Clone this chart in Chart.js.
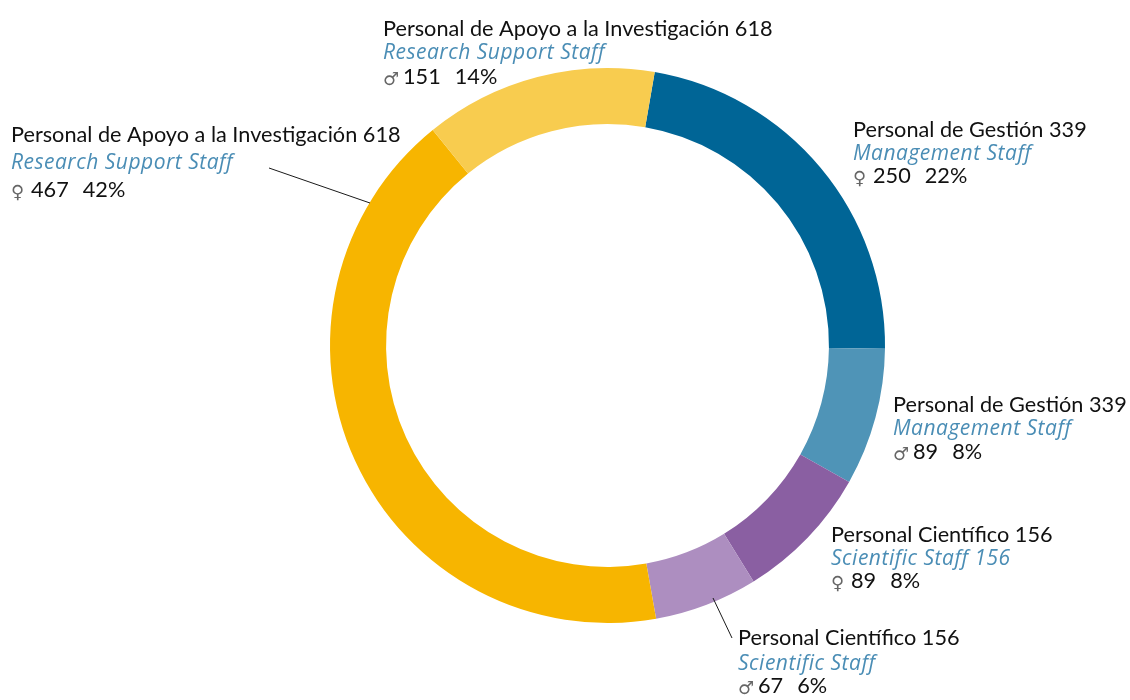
<!DOCTYPE html>
<html>
<head>
<meta charset="utf-8">
<script src="https://cdn.jsdelivr.net/npm/chart.js@4.4.1/dist/chart.umd.min.js"></script>
<style>
  html,body{margin:0;padding:0;background:#fff;}
  #wrap{width:1130px;height:700px;position:relative;}
</style>
</head>
<body>
<div id="wrap"><canvas id="chart-donut"></canvas></div>
<script>
'use strict';

// data, clockwise from the top
const namesEs  = ['Personal de Gestión 339','Personal de Gestión 339','Personal Científico 156','Personal Científico 156','Personal de Apoyo a la Investigación 618','Personal de Apoyo a la Investigación 618'];
const namesEn  = ['Management Staff','Management Staff','Scientific Staff 156','Scientific Staff','Research Support Staff','Research Support Staff'];
const genders  = ['♀','♂','♀','♂','♀','♂'];
const counts   = [250, 89, 89, 67, 467, 151];
const percents = ['22%','8%','8%','6%','42%','14%'];
const palette  = ['#006596','#4f94b7','#8a5fa2','#ad8ec0','#f7b500','#f8cc4f'];

// label layout: x, baseline of 1st/2nd/3rd line, optional leader line
const labelPos = [
  {x:853, y:[137,160,183]},
  {x:893, y:[412,435,459]},
  {x:831, y:[542,565,588]},
  {x:738, y:[645,670,693], line:[713,598,732,638]},
  {x:11,  y:[142,169,197], line:[269,168,370,203]},
  {x:383, y:[36,59,84]},
];

const labelPlugin = {
  id:'donutLabels',
  afterDraw(chart){
    const ctx = chart.ctx;
    ctx.save();
    labelPos.forEach((p,i)=>{
      if (p.line) {
        ctx.beginPath();
        ctx.strokeStyle = '#1a1a1a';
        ctx.lineWidth = 1;
        ctx.moveTo(p.line[0],p.line[1]);
        ctx.lineTo(p.line[2],p.line[3]);
        ctx.stroke();
      }
      ctx.textBaseline = 'alphabetic';
      ctx.textAlign = 'left';
      ctx.letterSpacing = '0px';
      ctx.fillStyle = '#111';
      ctx.font = '21.7px Lato';
      ctx.fillText(namesEs[i], p.x, p.y[0]);
      ctx.fillStyle = '#4a8db5';
      ctx.font = 'italic 21px "Open Sans"';
      ctx.letterSpacing = '0.5px';
      ctx.fillText(namesEn[i], p.x, p.y[1]);
      ctx.letterSpacing = '0px';
      ctx.fillStyle = '#666';
      ctx.font = '18px "DejaVu Sans"';
      ctx.fillText(genders[i], p.x, p.y[2] + 1);
      ctx.fillStyle = '#111';
      ctx.font = '21.7px Lato';
      const cx = p.x + 20;
      ctx.fillText(String(counts[i]), cx, p.y[2]);
      const w = ctx.measureText(String(counts[i])).width;
      ctx.fillText(percents[i], cx + w + 14, p.y[2]);
    });
    ctx.restore();
  }
};

new Chart(document.getElementById('chart-donut'), {
  type:'doughnut',
  data:{labels:namesEn, datasets:[{data:counts, backgroundColor:palette, borderWidth:0, hoverOffset:0}]},
  options:{
    rotation:9.8,
    cutout:'79.8%',
    responsive:true, maintainAspectRatio:false, animation:false,
    layout:{padding:{left:330,right:245,top:68,bottom:77}},
    plugins:{legend:{display:false},tooltip:{enabled:false}}
  },
  plugins:[labelPlugin]
});
</script>
</body>
</html>
